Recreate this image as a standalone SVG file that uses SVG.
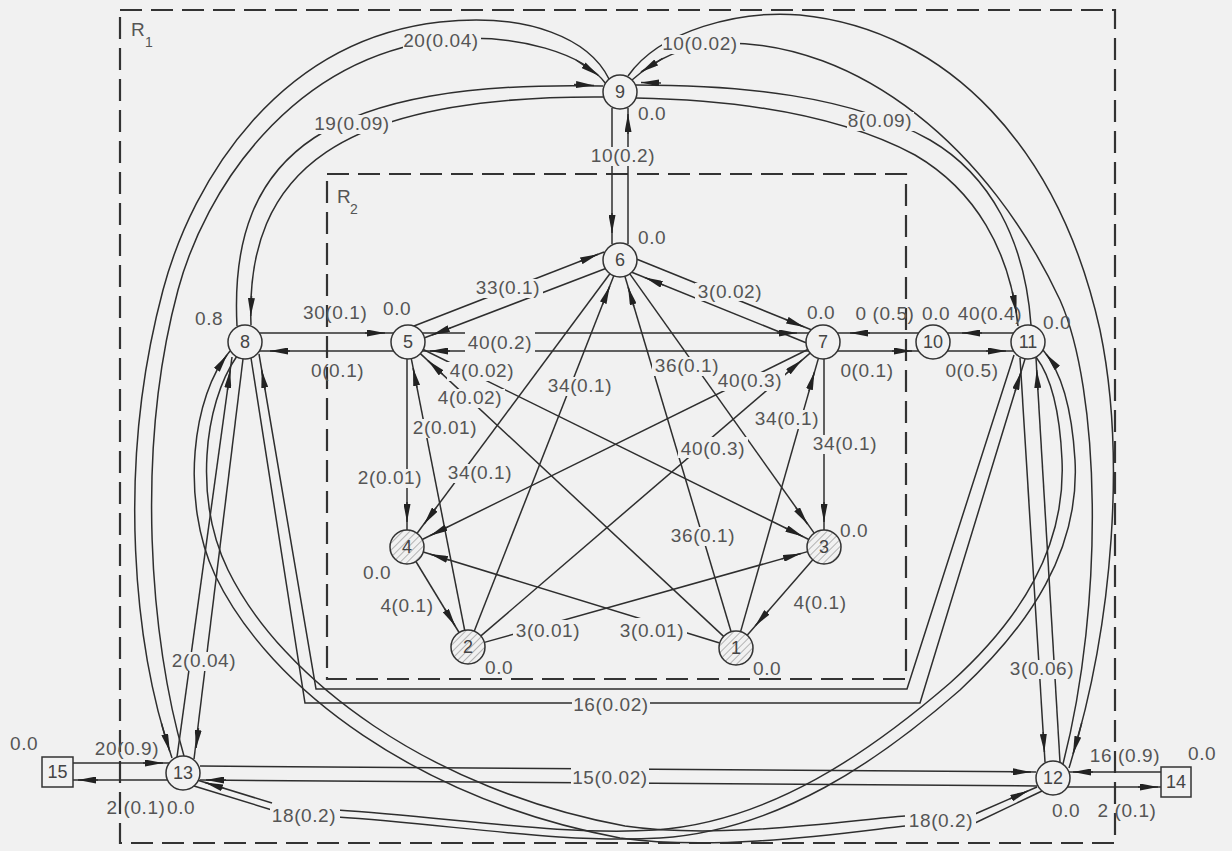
<svg xmlns="http://www.w3.org/2000/svg" width="1232" height="851" viewBox="0 0 1232 851">
<defs>
<style>
.ln{fill:none;stroke:#2e2e2e;stroke-width:1.5}
.ar{fill:none;stroke:#2e2e2e;stroke-width:1.5;marker-end:url(#ah)}
.bg{fill:#f1f1f1}
.t{font-family:"Liberation Sans",Arial,sans-serif;font-size:19px;fill:#555;letter-spacing:0.6px;text-anchor:middle}
.v{font-family:"Liberation Sans",Arial,sans-serif;font-size:19px;fill:#555;letter-spacing:0.6px}
.nl{font-family:"Liberation Sans",Arial,sans-serif;font-size:18px;fill:#444;text-anchor:middle}
.nd{fill:#f1f1f1;stroke:#333;stroke-width:1.5}
.hn{fill:url(#hatch);stroke:#333;stroke-width:1.5}
.reg{fill:none;stroke:#333;stroke-width:2.2;stroke-dasharray:22 9}
.rl{font-family:"Liberation Sans",Arial,sans-serif;font-size:19px;fill:#555}
.rs{font-family:"Liberation Sans",Arial,sans-serif;font-size:14px;fill:#555}
</style>
<marker id="ah" viewBox="0 0 18 7" refX="18" refY="3.5" markerWidth="18" markerHeight="7" orient="auto" markerUnits="userSpaceOnUse"><path d="M0,0 L18,3.5 L0,7 Z" fill="#222"/></marker>
<pattern id="hatch" width="5" height="5" patternUnits="userSpaceOnUse" patternTransform="rotate(45)"><rect width="5" height="5" fill="#f1f1f1"/><line x1="0" y1="0" x2="0" y2="5" stroke="#8a8a8a" stroke-width="1.2"/></pattern>
</defs>
<rect width="1232" height="851" fill="#f1f1f1"/>
<g id="regions">
<rect class="reg" x="120" y="10" width="995" height="833"/>
<rect class="reg" x="327" y="174" width="579" height="505"/>
<text class="rl" x="131" y="36">R</text><text class="rs" x="145" y="47">1</text>
<text class="rl" x="337" y="203">R</text><text class="rs" x="350" y="214">2</text>
</g>
<g id="connectors">
<path class="ln" d="M612,108 L612,244"/>
<path class="ln" d="M628,244 L628,108"/>
<path class="ln" d="M259,333 L394,333"/>
<path class="ln" d="M394,351 L259,351"/>
<path class="ln" d="M422,333 L809,333"/>
<path class="ln" d="M809,351 L422,351"/>
<path class="ln" d="M414,326 L604,252"/>
<path class="ln" d="M607,268 L424,338"/>
<path class="ln" d="M407,359 L407,530"/>
<path class="ln" d="M464.7,630.3 L411.3,358.7"/>
<path class="ln" d="M609.9,273.7 L417.1,533.3"/>
<path class="ln" d="M807.8,349.5 L422.2,539.5"/>
<path class="ln" d="M480.9,635.9 L810.1,353.1"/>
<path class="ln" d="M740.6,631.6 L818.4,358.4"/>
<path class="ln" d="M824,359 L824,530"/>
<path class="ln" d="M629.8,273.9 L814.2,533.1"/>
<path class="ln" d="M731.1,631.7 L624.9,276.3"/>
<path class="ln" d="M474.2,631.2 L613.8,275.8"/>
<path class="ln" d="M423.2,349.5 L808.8,539.5"/>
<path class="ln" d="M723.6,636.4 L420.4,353.6"/>
<path class="ln" d="M415.9,561.5 L459.1,632.5"/>
<path class="ln" d="M812.8,559.8 L747.2,635.2"/>
<path class="ln" d="M484.4,642.4 L807.6,551.6"/>
<path class="ln" d="M719.7,643 L423.3,552"/>
<path class="ln" d="M637,259.3 L811.2,329.7"/>
<path class="ln" d="M806,342.7 L631.8,272.3"/>
<path class="ln" d="M919,333 L837,333"/>
<path class="ln" d="M837,351 L919,351"/>
<path class="ln" d="M1014,333 L947,333"/>
<path class="ln" d="M947,351 L1014,351"/>
<path class="ln" d="M237,326 C228,150 330,80 603,86"/>
<path class="ln" d="M604,97 C340,95 245,170 251,325"/>
<path class="ln" d="M172,758 C135,650 115,470 163,290 C193,178 280,40 440,22 C530,12 590,40 609,79"/>
<path class="ln" d="M184,756 C150,640 135,450 178,290 C205,190 290,60 440,40 C520,32 585,55 606,84"/>
<path class="ln" d="M636,85 C740,85 850,95 930,140 C990,175 1025,240 1031,325"/>
<path class="ln" d="M636,98 C740,100 840,115 915,155 C975,190 1010,250 1018,326"/>
<path class="ln" d="M628,76 C660,30 740,10 800,15 C950,30 1060,150 1100,330 C1125,450 1115,620 1069,768"/>
<path class="ln" d="M632,80 C660,55 690,45 720,43 C860,40 990,150 1060,300 C1100,390 1105,600 1063,764"/>
<path class="ln" d="M243,359 L194,759"/>
<path class="ln" d="M232,357 L177,757"/>
<path class="ln" d="M251,358 L305,703 L920,703 L1025,359"/>
<path class="ln" d="M259,354 L316,689 L907,689 L1014,355"/>
<path class="ln" d="M200,766 L1036,772"/>
<path class="ln" d="M1037,786 L200,780"/>
<path class="ln" d="M73,763 L169,763"/>
<path class="ln" d="M168,780 L73,780"/>
<path class="ln" d="M1161,772 L1069,772"/>
<path class="ln" d="M1067,787 L1161,787"/>
<path class="ln" d="M230,351 C192,395 180,500 215,575 C270,690 420,800 620,838 C720,852 850,832 905,826"/>
<path class="ln" d="M975,823 L1042,791"/>
<path class="ln" d="M237,356 C203,405 194,500 228,570 C282,680 430,790 625,826 C720,840 850,820 905,816"/>
<path class="ln" d="M975,814 L1037,787"/>
<path class="ln" d="M194,786 L272,810"/>
<path class="ln" d="M337,817 C450,824 560,844 660,838 C780,830 880,760 960,690 C1030,625 1080,550 1075,460 C1072,410 1062,372 1043,350"/>
<path class="ln" d="M197,780 L272,803"/>
<path class="ln" d="M337,810 C450,817 560,836 655,830 C770,822 870,752 950,683 C1020,620 1066,548 1062,460 C1060,415 1052,378 1036,357"/>
<path class="ln" d="M1020,358 L1045,762"/>
<path class="ln" d="M1060,762 L1036,358"/>
<path class="ar" d="M612,213 L612,233"/>
<path class="ar" d="M628,134 L628,114"/>
<path class="ar" d="M365,333 L385,333"/>
<path class="ar" d="M290,351 L270,351"/>
<path class="ar" d="M777,333 L797,333"/>
<path class="ar" d="M450,351 L430,351"/>
<path class="ar" d="M579.4,261.6 L598,254.3"/>
<path class="ar" d="M450.7,327.9 L432,335"/>
<path class="ar" d="M407,502 L407,522"/>
<path class="ar" d="M417,387.6 L413.1,368"/>
<path class="ar" d="M436,507.9 L424.1,524"/>
<path class="ar" d="M447.9,526.9 L430,535.7"/>
<path class="ar" d="M786.8,373 L802,360"/>
<path class="ar" d="M808.9,391.2 L814.4,372"/>
<path class="ar" d="M824,502 L824,522"/>
<path class="ar" d="M795.9,507.7 L807.5,524"/>
<path class="ar" d="M633.8,306.2 L628.1,287"/>
<path class="ar" d="M602.5,304.6 L609.8,286"/>
<path class="ar" d="M785.1,527.8 L803,536.6"/>
<path class="ar" d="M442.6,374.2 L428,360.6"/>
<path class="ar" d="M444.8,608.9 L455.2,626"/>
<path class="ar" d="M768.2,610.9 L755.1,626"/>
<path class="ar" d="M781.7,558.9 L801,553.5"/>
<path class="ar" d="M449.1,560 L430,554.1"/>
<path class="ar" d="M785.5,319.4 L804,326.9"/>
<path class="ar" d="M663.5,285.1 L645,277.6"/>
<path class="ar" d="M870,333 L850,333"/>
<path class="ar" d="M892,351 L912,351"/>
<path class="ar" d="M982,333 L962,333"/>
<path class="ar" d="M986,351 L1006,351"/>
<path class="ar" d="M574,84.5 L594,85.5"/>
<path class="ar" d="M251.5,296 L250.7,316"/>
<path class="ar" d="M161.5,723.5 L169.8,751.6"/>
<path class="ar" d="M576,60 L598.4,75.5"/>
<path class="ar" d="M661,83 L641,82.5"/>
<path class="ar" d="M1012.5,292 L1016.5,313"/>
<path class="ar" d="M662.6,58.4 L641,72"/>
<path class="ar" d="M1081.7,723 L1073,754"/>
<path class="ar" d="M198.5,728.1 L196.1,748"/>
<path class="ar" d="M227.5,389.8 L230.2,370"/>
<path class="ar" d="M265.1,389.7 L261.7,370"/>
<path class="ar" d="M1015.2,391.1 L1021,372"/>
<path class="ar" d="M1011,771.8 L1031,772"/>
<path class="ar" d="M226,780 L206,780"/>
<path class="ar" d="M143,763 L163,763"/>
<path class="ar" d="M98,780 L78,780"/>
<path class="ar" d="M1093,772 L1073,772"/>
<path class="ar" d="M1138,787 L1158,787"/>
<path class="ar" d="M219.5,366 L227,355"/>
<path class="ar" d="M1009.7,798.9 L1028,790.9"/>
<path class="ar" d="M224.1,788.4 L205,782.5"/>
<path class="ar" d="M1055,365 L1046,354"/>
<path class="ar" d="M1043.2,732 L1044.4,752"/>
<path class="ar" d="M1037.9,390 L1036.7,370"/>
<g id="labels">
<rect class="bg" x="588" y="147" width="70" height="19"/><text class="t" x="623" y="162">10(0.2)</text>
<text class="v" x="303" y="319">30(0.1)</text>
<text class="v" x="311" y="377">0(0.1)</text>
<rect class="bg" x="465" y="329" width="70" height="27"/><text class="t" x="500" y="349">40(0.2)</text>
<rect class="bg" x="473" y="279" width="70" height="19"/><text class="t" x="508" y="294">33(0.1)</text>
<rect class="bg" x="355" y="469" width="70" height="19"/><text class="t" x="390" y="484">2(0.01)</text>
<rect class="bg" x="410" y="419" width="70" height="19"/><text class="t" x="445" y="434">2(0.01)</text>
<rect class="bg" x="445" y="464" width="70" height="19"/><text class="t" x="480" y="479">34(0.1)</text>
<rect class="bg" x="715" y="372" width="70" height="19"/><text class="t" x="750" y="387">40(0.3)</text>
<rect class="bg" x="678" y="437" width="70" height="21"/><text class="t" x="713" y="455">40(0.3)</text>
<rect class="bg" x="752" y="410" width="70" height="19"/><text class="t" x="787" y="425">34(0.1)</text>
<rect class="bg" x="810" y="435" width="70" height="19"/><text class="t" x="845" y="450">34(0.1)</text>
<rect class="bg" x="652" y="357" width="70" height="19"/><text class="t" x="687" y="372">36(0.1)</text>
<rect class="bg" x="668" y="527" width="70" height="19"/><text class="t" x="703" y="542">36(0.1)</text>
<rect class="bg" x="545" y="377" width="70" height="19"/><text class="t" x="580" y="392">34(0.1)</text>
<rect class="bg" x="447" y="362" width="70" height="19"/><text class="t" x="482" y="377">4(0.02)</text>
<rect class="bg" x="435" y="389" width="70" height="19"/><text class="t" x="470" y="404">4(0.02)</text>
<text class="t" x="407" y="612">4(0.1)</text>
<text class="t" x="820" y="609">4(0.1)</text>
<rect class="bg" x="513" y="620" width="70" height="19"/><text class="t" x="548" y="637">3(0.01)</text>
<rect class="bg" x="617" y="618" width="70" height="21"/><text class="t" x="652" y="637">3(0.01)</text>
<rect class="bg" x="695" y="283" width="70" height="18"/><text class="t" x="730" y="298">3(0.02)</text>
<text class="t" x="885" y="320">0 (0.5)</text>
<text class="t" x="867" y="377">0(0.1)</text>
<text class="t" x="990" y="320">40(0.4)</text>
<text class="t" x="972" y="377">0(0.5)</text>
<rect class="bg" x="314" y="115" width="78" height="19"/><text class="t" x="352" y="130">19(0.09)</text>
<rect class="bg" x="403" y="32" width="78" height="19"/><text class="t" x="441" y="47">20(0.04)</text>
<rect class="bg" x="847" y="112" width="67" height="19"/><text class="t" x="880" y="127">8(0.09)</text>
<rect class="bg" x="662" y="35" width="78" height="19"/><text class="t" x="700" y="50">10(0.02)</text>
<rect class="bg" x="169" y="652" width="70" height="19"/><text class="t" x="204" y="667">2(0.04)</text>
<rect class="bg" x="572" y="696" width="78" height="18"/><text class="t" x="611" y="711">16(0.02)</text>
<rect class="bg" x="571" y="762" width="78" height="30"/><text class="t" x="610" y="784">15(0.02)</text>
<text class="t" x="127" y="755">20(0.9)</text>
<text class="t" x="136" y="814">2 (0.1)</text>
<text class="t" x="1125" y="762">16 (0.9)</text>
<text class="t" x="1127" y="817">2 (0.1)</text>
<rect class="bg" x="270" y="807" width="70" height="19"/><text class="t" x="304" y="822">18(0.2)</text>
<rect class="bg" x="906" y="812" width="70" height="19"/><text class="t" x="941" y="827">18(0.2)</text>
<rect class="bg" x="1007" y="660" width="70" height="19"/><text class="t" x="1042" y="675">3(0.06)</text>
</g>
</g>
<g id="node-9"><circle class="nd" cx="620" cy="92" r="17"/><text class="nl" x="620" y="98">9</text><text class="v" x="638" y="120">0.0</text></g>
<g id="node-6"><circle class="nd" cx="620" cy="260" r="17"/><text class="nl" x="620" y="266">6</text><text class="v" x="638" y="244">0.0</text></g>
<g id="node-5"><circle class="nd" cx="408" cy="342" r="17"/><text class="nl" x="408" y="348">5</text><text class="v" x="383" y="315">0.0</text></g>
<g id="node-7"><circle class="nd" cx="823" cy="342" r="17"/><text class="nl" x="823" y="348">7</text><text class="v" x="807" y="319">0.0</text></g>
<g id="node-8"><circle class="nd" cx="245" cy="342" r="17"/><text class="nl" x="245" y="348">8</text><text class="v" x="195" y="325">0.8</text></g>
<g id="node-10"><circle class="nd" cx="933" cy="342" r="17"/><text class="nl" x="933" y="348">10</text><text class="v" x="922" y="320">0.0</text></g>
<g id="node-11"><circle class="nd" cx="1028" cy="342" r="17"/><text class="nl" x="1028" y="348">11</text><text class="v" x="1043" y="329">0.0</text></g>
<g id="node-4"><circle class="hn" cx="407" cy="547" r="17"/><text class="nl" x="407" y="553">4</text><text class="v" x="363" y="579">0.0</text></g>
<g id="node-3"><circle class="hn" cx="824" cy="547" r="17"/><text class="nl" x="824" y="553">3</text><text class="v" x="840" y="537">0.0</text></g>
<g id="node-2"><circle class="hn" cx="468" cy="647" r="17"/><text class="nl" x="468" y="653">2</text><text class="v" x="485" y="674">0.0</text></g>
<g id="node-1"><circle class="hn" cx="736" cy="648" r="17"/><text class="nl" x="736" y="654">1</text><text class="v" x="753" y="675">0.0</text></g>
<g id="node-13"><circle class="nd" cx="183" cy="773" r="17"/><text class="nl" x="183" y="779">13</text><text class="v" x="167" y="814">0.0</text></g>
<g id="node-12"><circle class="nd" cx="1053" cy="778" r="17"/><text class="nl" x="1053" y="784">12</text><text class="v" x="1052" y="817">0.0</text></g>
<g id="node-15"><rect class="nd" x="42" y="757" width="31" height="30"/><text class="nl" x="57.5" y="778">15</text><text class="v" x="10" y="750">0.0</text></g>
<g id="node-14"><rect class="nd" x="1161" y="767" width="30" height="30"/><text class="nl" x="1176" y="788">14</text><text class="v" x="1188" y="760">0.0</text></g>
</svg>
